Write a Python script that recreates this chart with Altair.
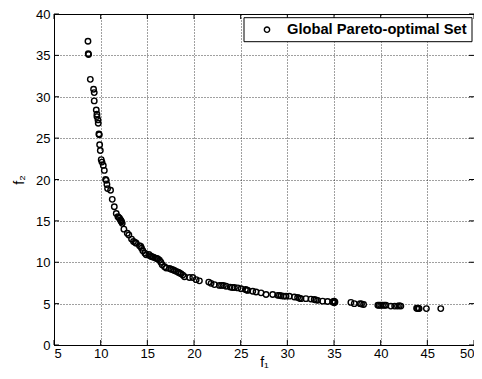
import altair as alt
import pandas as pd

f1 = [8.64, 8.67, 8.70, 8.89, 9.24, 9.31, 9.31, 9.53, 9.60, 9.60, 9.71, 9.74, 9.81, 9.85,
      9.89, 9.96, 10.06, 10.14, 10.28, 10.39, 10.53, 10.60, 10.67, 10.74, 11.06, 11.24,
      11.46, 11.67, 11.85, 11.95, 12.03, 12.13, 12.18, 12.24, 12.31, 12.49, 12.85, 13.02,
      13.31, 13.52, 13.70, 13.81, 14.16, 14.30, 14.38, 14.52, 14.74, 14.88, 15.16, 15.30,
      15.41, 15.55, 15.66, 15.88, 16.00, 16.13, 16.30, 16.45, 16.59, 16.84, 17.02, 17.37,
      17.55, 17.73, 17.90, 18.09, 18.30, 18.45, 18.62, 18.80, 18.98, 19.51, 19.87, 20.23,
      20.58, 21.58, 21.83, 22.19, 22.72, 22.95, 23.15, 23.44, 23.87, 24.10, 24.33, 24.69,
      25.04, 25.51, 25.65, 25.76, 26.29, 26.65, 27.18, 27.72, 28.43, 28.97, 29.15, 29.32,
      29.60, 29.86, 30.21, 30.75, 31.10, 31.30, 31.46, 31.99, 32.53, 32.88, 33.05, 33.24,
      33.78, 34.31, 34.85, 35.00, 35.03, 35.10, 36.81, 37.17, 37.80, 37.95, 38.17, 39.70,
      39.84, 40.00, 40.20, 40.40, 40.56, 41.09, 41.50, 41.80, 42.00, 42.16, 43.85, 43.94,
      44.05, 44.12, 44.90, 46.44]
f2 = [36.7, 35.2, 35.1, 32.1, 30.9, 30.5, 29.5, 28.4, 27.9, 27.6, 27.2, 26.8, 25.5, 25.4,
      24.2, 23.5, 22.4, 22.1, 21.7, 21.1, 20.0, 19.9, 19.4, 18.9, 18.7, 17.6,
      16.7, 15.9, 15.5, 15.4, 15.3, 15.1, 15.0, 14.9, 14.7, 14.0, 13.5, 13.3,
      12.8, 12.5, 12.4, 12.3, 12.0, 11.9, 11.7, 11.4, 11.1, 10.9, 10.95, 10.8,
      10.7, 10.65, 10.6, 10.5, 10.45, 10.4, 10.25, 10.0, 9.7, 9.45, 9.3, 9.25,
      9.15, 9.1, 9.0, 8.9, 8.8, 8.7, 8.6, 8.45, 8.25, 8.15, 8.15, 7.9,
      7.75, 7.6, 7.45, 7.3, 7.2, 7.2, 7.2, 7.1, 7.0, 6.95, 6.95, 6.9,
      6.8, 6.7, 6.65, 6.6, 6.5, 6.4, 6.3, 6.1, 6.1, 6.0, 6.0, 5.95,
      5.9, 5.9, 5.9, 5.8, 5.75, 5.65, 5.6, 5.6, 5.55, 5.5, 5.45, 5.4,
      5.3, 5.25, 5.2, 5.3, 5.1, 5.2, 5.15, 5.0, 5.0, 4.95, 4.9, 4.8,
      4.8, 4.8, 4.8, 4.8, 4.8, 4.7, 4.7, 4.7, 4.75, 4.7, 4.45, 4.4,
      4.45, 4.4, 4.4, 4.4]

x_ticks = [5, 10, 15, 20, 25, 30, 35, 40, 45, 50]
y_ticks = [0, 5, 10, 15, 20, 25, 30, 35, 40]
series_name = ["Global Pareto-optimal Set"]

W, H = 420, 331
TICK = 5
FONT = "Liberation Sans"

df = pd.DataFrame({"f1": f1, "f2": f2})
xt = pd.DataFrame({"v": x_ticks})
yt = pd.DataFrame({"v": y_ticks})
leg = pd.DataFrame({"series": series_name})

xscale = alt.Scale(domain=[5, 50], nice=False, zero=False)
yscale = alt.Scale(domain=[0, 40], nice=False, zero=False)

points = alt.Chart(df).mark_point(
    shape="circle", filled=False, color="black", strokeWidth=1.4, size=30, opacity=1
).encode(
    x=alt.X("f1:Q", scale=xscale, title="f₁",
            axis=alt.Axis(values=x_ticks, titleY=21, titleBaseline="alphabetic")),
    y=alt.Y("f2:Q", scale=yscale, title="f₂",
            axis=alt.Axis(values=y_ticks, labelBaseline="alphabetic", labelOffset=4.6)),
)

xb = alt.Chart(xt).mark_rule(color="black", strokeWidth=1).encode(
    x=alt.X("v:Q", scale=xscale), y=alt.value(H), y2=alt.value(H - TICK))
xtp = alt.Chart(xt).mark_rule(color="black", strokeWidth=1).encode(
    x=alt.X("v:Q", scale=xscale), y=alt.value(0), y2=alt.value(TICK))
yl = alt.Chart(yt).mark_rule(color="black", strokeWidth=1).encode(
    y=alt.Y("v:Q", scale=yscale), x=alt.value(0), x2=alt.value(TICK))
yr = alt.Chart(yt).mark_rule(color="black", strokeWidth=1).encode(
    y=alt.Y("v:Q", scale=yscale), x=alt.value(W), x2=alt.value(W - TICK))

# legend box (top right)
LX0, LX1, LY0, LY1 = 190, 418, 3.7, 27.7
leg_box = alt.Chart(leg).mark_rect(fill="white", stroke="black", strokeWidth=1).encode(
    x=alt.value(LX0), x2=alt.value(LX1), y=alt.value(LY0), y2=alt.value(LY1))
leg_sym = alt.Chart(leg).mark_point(
    shape="circle", filled=False, color="black", strokeWidth=1.4, size=28, opacity=1
).encode(x=alt.value(213), y=alt.value(15.7))
leg_txt = alt.Chart(leg).mark_text(
    align="left", baseline="middle", font=FONT, fontWeight="bold", fontSize=14.7,
    color="black"
).encode(x=alt.value(233), y=alt.value(16.2), text="series:N")

chart = alt.layer(xb, xtp, yl, yr, points, leg_box, leg_sym, leg_txt).properties(
    width=W, height=H,
    autosize=alt.AutoSizeParams(type="none"),
    padding={"left": 46, "top": 6, "right": 0, "bottom": 25},
    background="white",
).configure_view(
    stroke="black", strokeWidth=1
).configure_axis(
    domainColor="black", domainWidth=1,
    ticks=False, labelPadding=4,
    labelFont=FONT, labelFontSize=13, labelColor="black",
    titleFont=FONT, titleFontSize=14, titleFontWeight="normal", titleColor="black",
    grid=True, gridColor="black", gridDash=[1, 2], gridOpacity=0.75, gridWidth=1,
).configure_axisX(
    labelPadding=2
).configure_axisY(
    titlePadding=9
)

chart.save("out.html", embed_options={"renderer": "svg", "actions": False})
